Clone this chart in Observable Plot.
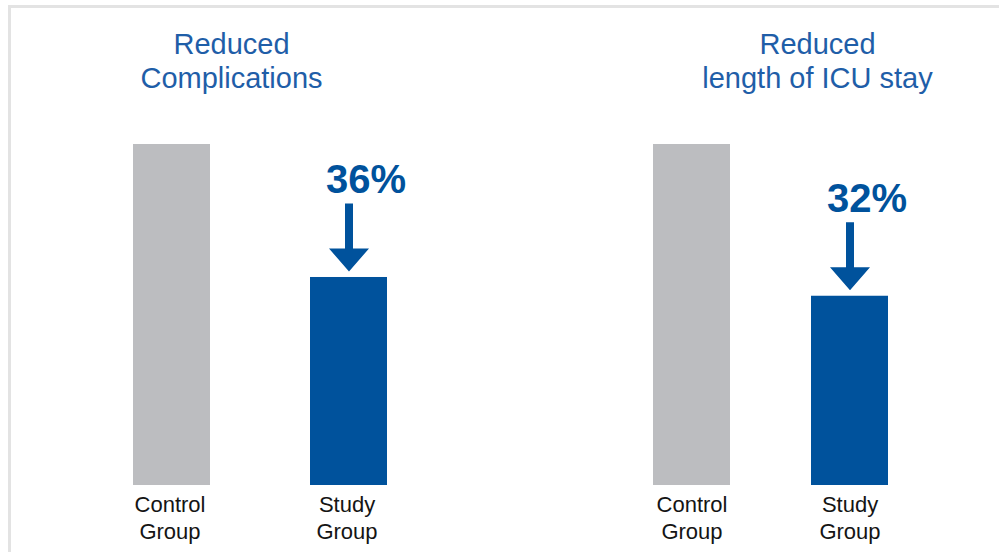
<!DOCTYPE html>
<html><head><meta charset="utf-8">
<script src="https://cdn.jsdelivr.net/npm/d3@7"></script>
<script src="https://cdn.jsdelivr.net/npm/@observablehq/plot@0.6"></script>
<style>
html,body{margin:0;padding:0;background:#fff;}
#chart{position:relative;width:999px;height:552px;overflow:hidden;background:#fff;font-family:"Liberation Sans",Arial,Helvetica,sans-serif;}
#frame{position:absolute;left:8px;top:5px;width:1100px;height:700px;border-top:3px solid #e3e3e3;border-left:3px solid #e3e3e3;}
.panel{position:absolute;top:0;}
</style></head><body><div id="chart"><div id="frame"></div></div>
<script>
// ---- data ----
const panelTitles = ["Reduced\nComplications", "Reduced\nlength of ICU stay"];
const groups = ["Control\nGroup", "Study\nGroup"];
const controlValues = [100, 100];
const studyValues = [61, 55.5];
const reductionLabels = ["36%", "32%"];

// ---- styles ----
const GRAY = "#bcbdc0";
const BLUE = "#00529c";
const TITLE_BLUE = "#1f5ea8";

const layouts = [
  {left: 0, width: 500, marginLeft: 132, marginRight: 113, paddingInner: 0.5674, titleDx: -28.5, labelDx: -2},
  {left: 500, width: 499, marginLeft: 152, marginRight: 111, paddingInner: 0.5157, titleDx: 47, labelDx: 0}
];

// filled down-arrow drawn with its tip at the origin
const arrowSymbol = {
  draw(ctx) {
    const L = 68, hw = 20, hh = 23, sw = 4;
    ctx.moveTo(-sw, -L);
    ctx.lineTo(sw, -L);
    ctx.lineTo(sw, -hh);
    ctx.lineTo(hw, -hh);
    ctx.lineTo(0, 0);
    ctx.lineTo(-hw, -hh);
    ctx.lineTo(-sw, -hh);
    ctx.closePath();
  }
};

const chart = document.getElementById("chart");

panelTitles.forEach((title, p) => {
  const lay = layouts[p];
  const rows = groups.map((g, i) => ({group: g, value: i === 0 ? controlValues[p] : studyValues[p], study: i === 1}));
  const studyRows = rows.filter(d => d.study);

  const svg = Plot.plot({
    width: lay.width,
    height: 552,
    marginTop: 144,
    marginBottom: 67,
    marginLeft: lay.marginLeft,
    marginRight: lay.marginRight,
    style: {background: "transparent", fontFamily: '"Liberation Sans", Arial, Helvetica, sans-serif', overflow: "visible"},
    x: {domain: groups, paddingInner: lay.paddingInner, paddingOuter: 0, axis: null},
    y: {domain: [0, 100], axis: null},
    color: {type: "identity"},
    marks: [
      Plot.barY(rows, {x: "group", y: "value", fill: d => d.study ? BLUE : GRAY}),
      Plot.dot(studyRows, {x: "group", y: "value", r: 10, symbol: arrowSymbol, fill: BLUE, stroke: "none", dy: -6}),
      Plot.text(studyRows, {x: "group", y: "value", text: () => reductionLabels[p], lineAnchor: "bottom", dy: -84, dx: 17, fontSize: 40, fontWeight: "bold", fill: BLUE}),
      Plot.text(rows, {x: "group", text: "group", frameAnchor: "bottom", lineAnchor: "bottom", dy: 53, dx: lay.labelDx, fontSize: 22, lineHeight: 27 / 22, fill: "#141414"}),
      Plot.text([title], {text: d => d, frameAnchor: "top", lineAnchor: "bottom", dy: -57, dx: lay.titleDx, fontSize: 29, lineHeight: 34 / 29, fill: TITLE_BLUE})
    ]
  });
  svg.classList.add("panel");
  svg.style.left = lay.left + "px";
  chart.appendChild(svg);
});
</script>
</body></html>
